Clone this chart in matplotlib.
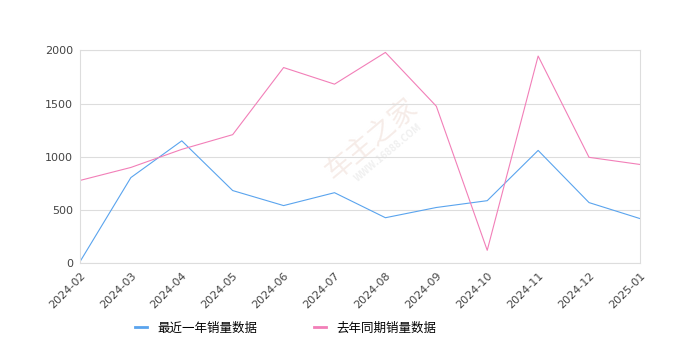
import matplotlib
matplotlib.use("Agg")
import matplotlib.pyplot as plt

plt.rcParams['font.family'] = ['Noto Sans CJK SC', 'DejaVu Sans']

months = ['2024-02', '2024-03', '2024-04', '2024-05', '2024-06', '2024-07',
          '2024-08', '2024-09', '2024-10', '2024-11', '2024-12', '2025-01']
recent = [15, 805, 1150, 683, 542, 663, 428, 524, 588, 1060, 570, 420]
last_year = [778, 900, 1070, 1208, 1838, 1682, 1980, 1475, 122, 1946, 995, 928]

fig = plt.figure(figsize=(6.8, 3.5), dpi=100)
ax = fig.add_axes([0.1176, 0.2477, 0.8235, 0.6086])

x = list(range(len(months)))
l1, = ax.plot(x, recent, color='#5aa4ee', lw=0.8, label='最近一年销量数据')
l2, = ax.plot(x, last_year, color='#f27fb8', lw=0.8, label='去年同期销量数据')

ax.set_xlim(0, len(months) - 1)
ax.set_ylim(0, 2000)
ax.set_yticks([0, 500, 1000, 1500, 2000])
ax.set_xticks(x)
ax.set_xticklabels(months, rotation=45, ha='right', rotation_mode='anchor')
ax.tick_params(axis='both', length=0, labelsize=8, colors='#444444', pad=5)
for lab in ax.get_xticklabels() + ax.get_yticklabels():
    lab.set_family('DejaVu Sans')
ax.grid(axis='y', color='#dddddd', lw=0.8)
ax.set_axisbelow(True)
for s in ax.spines.values():
    s.set_color('#dddddd')
    s.set_linewidth(0.8)

# faint watermark
ax.text(0.52, 0.58, '车主之家', transform=ax.transAxes, rotation=40, fontsize=20,
        color='#f6ece8', ha='center', va='center', zorder=0)
ax.text(0.55, 0.52, 'WWW.16888.COM', transform=ax.transAxes, rotation=40, fontsize=7,
        color='#f0f0f0', ha='center', va='center', fontweight='bold', zorder=0)

fig.legend(handles=[l1, l2], loc='center', bbox_to_anchor=(0.42, 0.063), ncol=2,
           frameon=False, fontsize=9, handlelength=1.0, columnspacing=4.5,
           handletextpad=0.8)
for h in fig.legends[0].legend_handles:
    h.set_linewidth(2)

fig.savefig('out.png', dpi=100)
